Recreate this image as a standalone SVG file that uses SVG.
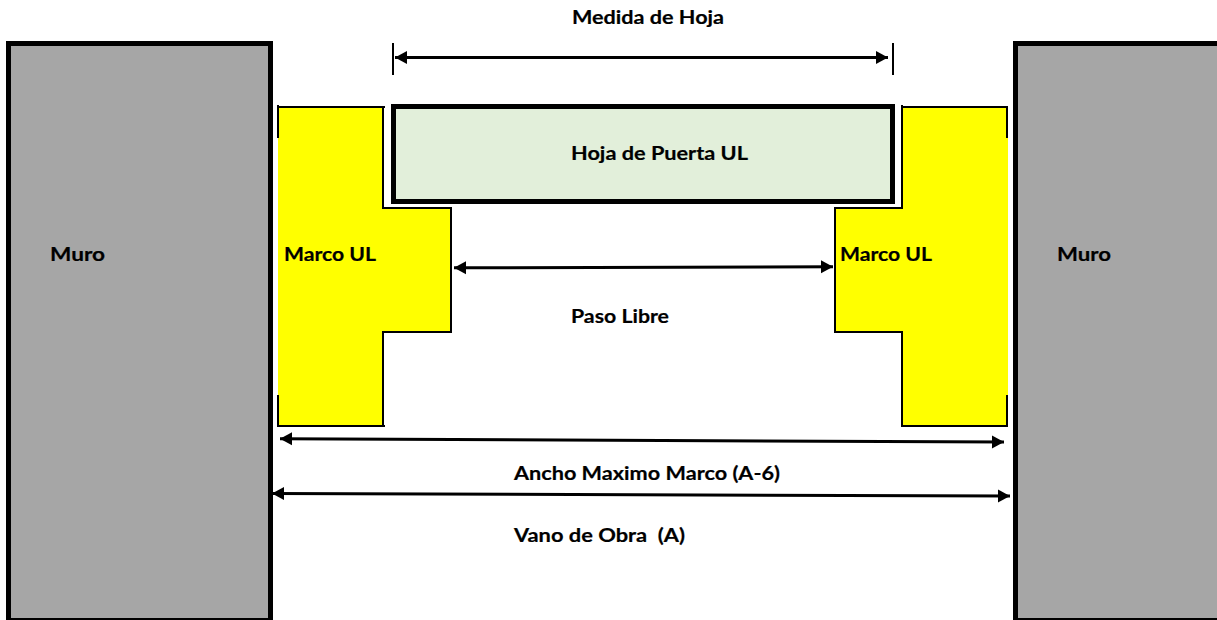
<svg xmlns="http://www.w3.org/2000/svg" width="1217" height="620" viewBox="0 0 1217 620">
  <style>
    text { font-family: Lato, "Liberation Sans", sans-serif; font-weight: 700; font-size: 19px; fill: #000; stroke: #000; stroke-width: 0.2px; }
    .wall { fill: #a6a6a6; stroke: #000; stroke-width: 5; }
    .yellow { fill: #ffff00; stroke: none; }
    .edge { fill: none; stroke: #000; stroke-width: 2; }
    .dim { fill: none; stroke: #000; stroke-width: 3; marker-start: url(#arrowS); marker-end: url(#arrowE); }
  </style>
  <defs>
    <marker id="arrowE" markerUnits="userSpaceOnUse" markerWidth="13" markerHeight="14" refX="12" refY="6.500" orient="auto" overflow="visible"><path d="M0 0L12 6.500L0 13Z" fill="#000"/></marker>
    <marker id="arrowS" markerUnits="userSpaceOnUse" markerWidth="13" markerHeight="14" refX="0" refY="6.500" orient="auto" overflow="visible"><path d="M12 0L0 6.500L12 13Z" fill="#000"/></marker>
  </defs>
  <rect width="1217" height="620" fill="#fff"/>
  <g id="muro-izq">
    <rect class="wall" x="8.500" y="43.500" width="262" height="577"/>
    <text x="50" y="261" textLength="55" lengthAdjust="spacingAndGlyphs">Muro</text>
  </g>
  <g id="muro-der">
    <rect class="wall" x="1015.500" y="43.500" width="210" height="577"/>
    <text x="1057" y="261" textLength="54" lengthAdjust="spacingAndGlyphs">Muro</text>
  </g>
  <g id="marco-izq">
    <path class="yellow" d="M278 107H383V208H451V332H383V426H278Z"/>
    <path class="edge" d="M278 138V105M277 107H385M383 107V208H451V332H383V426M385 426H277M278 427V395"/>
    <text x="284" y="261" textLength="92" lengthAdjust="spacingAndGlyphs">Marco UL</text>
  </g>
  <g id="marco-der">
    <path class="yellow" d="M902 107H1008V426H902V332H835V208H902Z"/>
    <path class="edge" d="M902 105V208H835V333M834 332H902V426M901 426H1008M1007 427V395M1007 138V107M1008 107H902"/>
    <text x="840" y="261" textLength="92" lengthAdjust="spacingAndGlyphs">Marco UL</text>
  </g>
  <g id="hoja">
    <rect x="393.500" y="106.500" width="499" height="95" fill="#e2efda" stroke="#000" stroke-width="5"/>
    <text x="571" y="160" textLength="177" lengthAdjust="spacingAndGlyphs">Hoja de Puerta UL</text>
  </g>
  <g id="connectors">
    <path class="edge" d="M393 43V75M893 43V75"/>
    <path class="dim" d="M395 57.500H888"/>
    <path class="dim" d="M454 267.800L833 266.800"/>
    <path class="dim" d="M280 438.800L1004 442"/>
    <path class="dim" d="M272 493.500L1010 496"/>
  </g>
  <g id="labels">
    <text x="572" y="24" textLength="152" lengthAdjust="spacingAndGlyphs">Medida de Hoja</text>
    <text x="571" y="323" textLength="98" lengthAdjust="spacingAndGlyphs">Paso Libre</text>
    <text x="514" y="480" textLength="266" lengthAdjust="spacingAndGlyphs">Ancho Maximo Marco (A-6)</text>
    <text x="514" y="542" textLength="171" lengthAdjust="spacingAndGlyphs" xml:space="preserve">Vano de Obra  (A)</text>
  </g>
</svg>
